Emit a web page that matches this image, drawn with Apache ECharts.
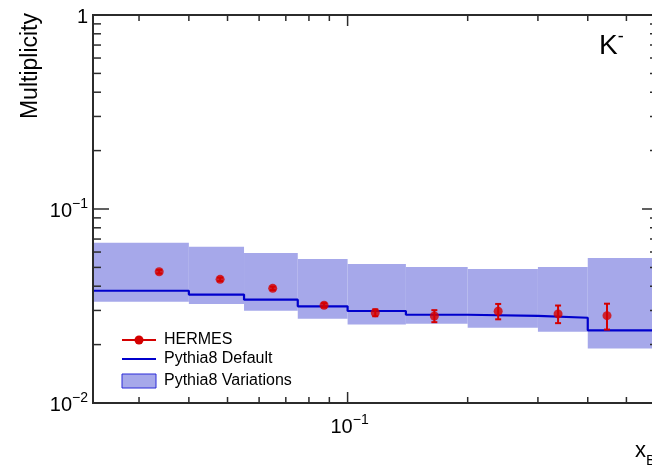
<!DOCTYPE html>
<html>
<head>
<meta charset="utf-8">
<script src="https://cdn.jsdelivr.net/npm/echarts@6/dist/echarts.min.js"></script>
<style>
  html, body { margin: 0; padding: 0; background: #ffffff; }
  #chart { width: 652px; height: 468px; }
</style>
</head>
<body>
<div id="chart"></div>
<script>
// K- multiplicity versus x_B: HERMES data compared with Pythia8
const binEdges = [0.023, 0.04, 0.055, 0.075, 0.1, 0.14, 0.2, 0.3, 0.4, 0.6];

const hermesX   = [0.0337, 0.0479, 0.0649, 0.0873, 0.1173, 0.165, 0.2385, 0.337, 0.447];
const hermesY   = [0.0475, 0.0434, 0.0390, 0.0319, 0.0292, 0.0281, 0.0297, 0.0288, 0.0282];
const hermesErr = [0.0010, 0.0009, 0.0008, 0.0008, 0.0012, 0.0020, 0.0027, 0.0030, 0.0043];

const pythiaDefault = [0.0379, 0.0362, 0.0341, 0.0315, 0.0298, 0.0285, 0.0281, 0.0275, 0.0237];
const variationLow  = [0.0333, 0.0324, 0.0299, 0.0272, 0.0254, 0.0256, 0.0244, 0.0233, 0.0191];
const variationHigh = [0.0670, 0.0639, 0.0593, 0.0552, 0.0521, 0.0502, 0.0491, 0.0502, 0.0559];

const xMajorTicks = [0.1];
const xMinorTicks = [0.03, 0.04, 0.05, 0.06, 0.07, 0.08, 0.09, 0.2, 0.3, 0.4, 0.5];
const yMajorTicks = [0.01, 0.1, 1];
const yMinorTicks = [0.02, 0.03, 0.04, 0.05, 0.06, 0.07, 0.08, 0.09,
                     0.2, 0.3, 0.4, 0.5, 0.6, 0.7, 0.8, 0.9];

const X_MIN = 0.023, X_MAX = 0.6;
const Y_MIN = 0.01, Y_MAX = 1;

const FONT = '"Liberation Sans", Arial, Helvetica, sans-serif';
const BAND_COLOR = '#a6a8ea';
const LINE_COLOR = '#0000cc';
const DATA_COLOR = '#d40000';
const AXIS_COLOR = '#2b2b2b';

const powerRich = {
  b: { fontSize: 20, fontFamily: FONT, color: '#000', lineHeight: 24, verticalAlign: 'bottom' },
  s: { fontSize: 14, fontFamily: FONT, color: '#000', lineHeight: 24, verticalAlign: 'top' }
};
function powerLabel(v) {
  const e = Math.round(Math.log10(v));
  if (e === 0) return '{b|1}';
  return '{b|10}{s|' + (e < 0 ? '\u2212' + (-e) : e) + '}';
}

const bandRows = variationLow.map((lo, i) => [binEdges[i], binEdges[i + 1], lo, variationHigh[i]]);
const stepRows = binEdges.map((e, i) => [e, pythiaDefault[Math.min(i, pythiaDefault.length - 1)]]);
const hermesRows = hermesX.map((x, i) => [x, hermesY[i]]);
const errRows = hermesX.map((x, i) => [x, hermesY[i] - hermesErr[i], hermesY[i] + hermesErr[i]]);
const xTickRows = xMajorTicks.map(v => [v, 1]).concat(xMinorTicks.map(v => [v, 0]));
const yTickRows = yMajorTicks.map(v => [v, 1]).concat(yMinorTicks.map(v => [v, 0]));

const chart = echarts.init(document.getElementById('chart'), null, { renderer: 'canvas' });

chart.setOption({
  animation: false,
  backgroundColor: '#ffffff',
  grid: {
    left: 93, top: 15, width: 565, height: 388,
    outerBoundsMode: 'none', containLabel: false,
    show: true, borderColor: AXIS_COLOR, borderWidth: 2,
    backgroundColor: 'transparent', z: 5
  },
  xAxis: {
    type: 'log', logBase: 10, min: X_MIN, max: X_MAX,
    axisLine: { show: false }, axisTick: { show: false },
    axisLabel: { show: false }, splitLine: { show: false }
  },
  yAxis: {
    type: 'log', logBase: 10, min: Y_MIN, max: Y_MAX, interval: 1,
    axisLine: { show: false }, axisTick: { show: false }, splitLine: { show: false },
    axisLabel: {
      show: true, margin: 5, formatter: powerLabel, rich: powerRich
    }
  },
  series: [
    {
      // Pythia8 variation envelope, one box per bin
      type: 'custom', name: 'Pythia8 Variations', z: 1,
      data: bandRows,
      encode: { x: [0, 1], y: [2, 3] },
      renderItem: function (params, api) {
        const p0 = api.coord([api.value(0), api.value(3)]);
        const p1 = api.coord([api.value(1), api.value(2)]);
        return {
          type: 'rect',
          shape: { x: p0[0], y: p0[1], width: p1[0] - p0[0], height: p1[1] - p0[1] },
          style: { fill: BAND_COLOR }
        };
      }
    },
    {
      type: 'line', name: 'Pythia8 Default', step: 'end', z: 2,
      data: stepRows, showSymbol: false,
      lineStyle: { color: LINE_COLOR, width: 2.2 }
    },
    {
      // HERMES error bars with small end caps
      type: 'custom', name: 'HERMES errors', z: 3,
      data: errRows,
      encode: { x: 0, y: [1, 2] },
      renderItem: function (params, api) {
        const lo = api.coord([api.value(0), api.value(1)]);
        const hi = api.coord([api.value(0), api.value(2)]);
        const st = { stroke: DATA_COLOR, lineWidth: 2 };
        return {
          type: 'group',
          children: [
            { type: 'line', shape: { x1: lo[0], y1: lo[1], x2: hi[0], y2: hi[1] }, style: st },
            { type: 'line', shape: { x1: lo[0] - 3, y1: lo[1], x2: lo[0] + 3, y2: lo[1] }, style: st },
            { type: 'line', shape: { x1: hi[0] - 3, y1: hi[1], x2: hi[0] + 3, y2: hi[1] }, style: st }
          ]
        };
      }
    },
    {
      type: 'scatter', name: 'HERMES', z: 4,
      data: hermesRows, symbol: 'circle', symbolSize: 9,
      itemStyle: { color: DATA_COLOR }
    },
    {
      // x-axis ticks on bottom and top edges, with the decade label
      type: 'custom', name: 'x ticks', z: 6,
      data: xTickRows,
      dimensions: ['v', 'major'],
      encode: { x: 0, y: 0 },
      renderItem: function (params, api) {
        const v = api.value(0), major = api.value(1);
        const b = api.coord([v, Y_MIN]);
        const t = api.coord([v, Y_MAX]);
        const len = major ? 11 : 6;
        const st = { stroke: AXIS_COLOR, lineWidth: 1.5 };
        const children = [
          { type: 'line', shape: { x1: b[0], y1: b[1], x2: b[0], y2: b[1] - len }, style: st },
          { type: 'line', shape: { x1: t[0], y1: t[1], x2: t[0], y2: t[1] + len }, style: st }
        ];
        if (major) {
          children.push({
            type: 'text',
            style: {
              x: b[0] + 2, y: b[1] + 10, text: powerLabel(v), rich: powerRich,
              align: 'center', verticalAlign: 'top'
            }
          });
        }
        return { type: 'group', children: children };
      }
    },
    {
      // y-axis ticks on left and right edges
      type: 'custom', name: 'y ticks', z: 6,
      data: yTickRows,
      dimensions: ['v', 'major'],
      encode: { x: 0, y: 0 },
      renderItem: function (params, api) {
        const v = api.value(0), major = api.value(1);
        const l = api.coord([X_MIN, v]);
        const r = api.coord([X_MAX, v]);
        const len = major ? 16 : 8;
        const st = { stroke: AXIS_COLOR, lineWidth: 1.5 };
        return {
          type: 'group',
          children: [
            { type: 'line', shape: { x1: l[0], y1: l[1], x2: l[0] + len, y2: l[1] }, style: st },
            { type: 'line', shape: { x1: r[0], y1: r[1], x2: r[0] - len, y2: r[1] }, style: st }
          ]
        };
      }
    }
  ],
  graphic: [
    {
      type: 'text', x: 31, y: 13, rotation: Math.PI / 2,
      style: { text: 'Multiplicity', fontSize: 23, fontFamily: FONT, fill: '#000',
               align: 'right', verticalAlign: 'middle' }
    },
    {
      type: 'text', x: 635, y: 440,
      style: {
        text: '{x|x}{s|B}', align: 'left', verticalAlign: 'top',
        rich: {
          x: { fontSize: 22, fontFamily: FONT, fill: '#000', lineHeight: 28, verticalAlign: 'top' },
          s: { fontSize: 15, fontFamily: FONT, fill: '#000', lineHeight: 28, verticalAlign: 'bottom' }
        }
      }
    },
    {
      type: 'text', x: 599, y: 28,
      style: {
        text: '{k|K}{s|-}', align: 'left', verticalAlign: 'top',
        rich: {
          k: { fontSize: 28, fontFamily: FONT, fill: '#000', lineHeight: 32, verticalAlign: 'bottom' },
          s: { fontSize: 18, fontFamily: FONT, fill: '#000', lineHeight: 32, verticalAlign: 'top' }
        }
      }
    },
    // legend
    { type: 'line', shape: { x1: 122, y1: 340, x2: 156, y2: 340 }, style: { stroke: DATA_COLOR, lineWidth: 2 } },
    { type: 'circle', shape: { cx: 139, cy: 340, r: 4.5 }, style: { fill: DATA_COLOR } },
    { type: 'text', x: 164, y: 340, style: { text: 'HERMES', fontSize: 16, fontFamily: FONT, fill: '#000', verticalAlign: 'middle' } },
    { type: 'line', shape: { x1: 122, y1: 359, x2: 156, y2: 359 }, style: { stroke: LINE_COLOR, lineWidth: 2 } },
    { type: 'text', x: 164, y: 359, style: { text: 'Pythia8 Default', fontSize: 16, fontFamily: FONT, fill: '#000', verticalAlign: 'middle' } },
    { type: 'rect', shape: { x: 122, y: 374, width: 34, height: 14 }, style: { fill: BAND_COLOR, stroke: '#2a2ad8', lineWidth: 1 } },
    { type: 'text', x: 164, y: 381, style: { text: 'Pythia8 Variations', fontSize: 16, fontFamily: FONT, fill: '#000', verticalAlign: 'middle' } }
  ]
});
</script>
</body>
</html>
